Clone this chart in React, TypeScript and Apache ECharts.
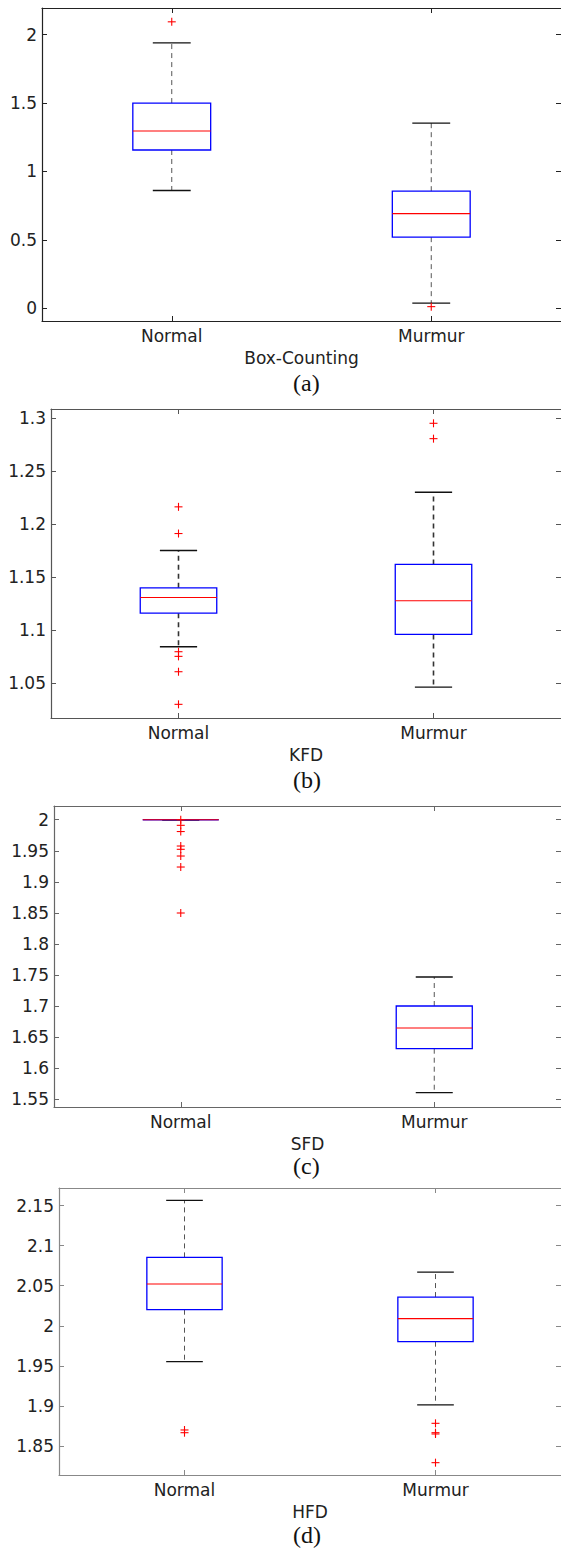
import React, { useEffect, useRef } from "react";
import * as echarts from "echarts";

const categories = ["Normal", "Murmur"];

// [lowerWhisker, Q1, median, Q3, upperWhisker]
const boxCountingBoxes = [
  [0.861, 1.157, 1.296, 1.5, 1.94],
  [0.037, 0.52, 0.692, 0.856, 1.354],
];
const boxCountingOutliers = [
  [0, 2.094],
  [1, 0.012],
];

const kfdBoxes = [
  [1.0843, 1.116, 1.1308, 1.1399, 1.1752],
  [1.0462, 1.0959, 1.1277, 1.162, 1.2302],
];
const kfdOutliers = [
  [0, 1.2164],
  [0, 1.1912],
  [0, 1.0796],
  [0, 1.0752],
  [0, 1.0607],
  [0, 1.0299],
  [1, 1.2953],
  [1, 1.2808],
];

const sfdBoxes = [
  [2.0, 2.0, 2.0, 2.0, 2.0],
  [1.5607, 1.6315, 1.6648, 1.7002, 1.7469],
];
const sfdOutliers = [
  [0, 2.0],
  [0, 1.991],
  [0, 1.981],
  [0, 1.9577],
  [0, 1.9524],
  [0, 1.9416],
  [0, 1.9239],
  [0, 1.8499],
];

const hfdBoxes = [
  [1.9552, 2.0201, 2.0522, 2.0854, 2.1566],
  [1.9012, 1.9802, 2.0089, 2.0359, 2.0671],
];
const hfdOutliers = [
  [0, 1.87],
  [0, 1.8666],
  [1, 1.8783],
  [1, 1.8666],
  [1, 1.865],
  [1, 1.8292],
];

const xLabels = ["Box-Counting", "KFD", "SFD", "HFD"];
const captions = ["(a)", "(b)", "(c)", "(d)"];
const yMins = [-0.093, 1.017, 1.5377, 1.8138];
const yMaxs = [2.195, 1.3088, 2.0221, 2.172];
const yIntervals = [0.5, 0.05, 0.05, 0.05];

const allBoxes = [boxCountingBoxes, kfdBoxes, sfdBoxes, hfdBoxes];
const allOutliers = [boxCountingOutliers, kfdOutliers, sfdOutliers, hfdOutliers];

// layout (pixels)
const grids = [
  { left: 42, top: 8, height: 313 },
  { left: 51, top: 409, height: 309 },
  { left: 54, top: 806, height: 301 },
  { left: 59, top: 1188, height: 287 },
];
const captionY = [385, 782, 1168, 1537];
const frameColors = ["#222", "#555", "#666", "#888"];
const whiskerColors = ["#555", "#333", "#555", "#555"];
const whiskerWidths = [1, 1.6, 1, 1];

export default function App() {
  const ref = useRef<HTMLDivElement>(null);
  useEffect(() => {
    if (!ref.current) return;
    const chart = echarts.init(ref.current, null, { renderer: "svg" });
    const font = "DejaVu Sans";
    const grid: any[] = [];
    const xAxis: any[] = [];
    const yAxis: any[] = [];
    const series: any[] = [];
    const graphic: any[] = [];

    grids.forEach((g, i) => {
      grid.push({ left: g.left, top: g.top, height: g.height, right: -1 });
      const frame = frameColors[i];
      xAxis.push({
        type: "category",
        gridIndex: i,
        data: categories,
        position: "bottom",
        axisLine: { show: true, onZero: false, lineStyle: { color: frame, width: 1.2 } },
        axisTick: { show: true, inside: true, length: 5, alignWithLabel: true, lineStyle: { color: frame } },
        axisLabel: { color: "#222", fontFamily: font, fontSize: 17, margin: 6 },
        splitLine: { show: false },
        name: xLabels[i],
        nameLocation: "middle",
        nameGap: 28,
        nameTextStyle: { color: "#222", fontFamily: font, fontSize: 17 },
      });
      xAxis.push({
        type: "category",
        gridIndex: i,
        data: categories,
        position: "top",
        axisLine: { show: true, onZero: false, lineStyle: { color: frame, width: 1.2 } },
        axisTick: { show: true, inside: true, length: 5, alignWithLabel: true, lineStyle: { color: frame } },
        axisLabel: { show: false },
        splitLine: { show: false },
      });
      const yCommon = {
        type: "value",
        gridIndex: i,
        min: yMins[i],
        max: yMaxs[i],
        minInterval: yIntervals[i],
        maxInterval: yIntervals[i],
        splitLine: { show: false },
        axisTick: { show: true, inside: true, length: 5, lineStyle: { color: frame } },
      };
      yAxis.push({
        ...yCommon,
        position: "left",
        axisLine: { show: true, onZero: false, lineStyle: { color: frame, width: 1.2 } },
        axisLabel: {
          color: "#222",
          fontFamily: font,
          fontSize: 17,
          margin: 5,
          showMinLabel: false,
          showMaxLabel: false,
        },
      });
      yAxis.push({
        ...yCommon,
        position: "right",
        axisLine: { show: false, onZero: false },
        axisLabel: { show: false },
      });

      const wColor = whiskerColors[i];
      const wWidth = whiskerWidths[i];
      series.push({
        type: "custom",
        xAxisIndex: i * 2,
        yAxisIndex: i * 2,
        data: allBoxes[i].map((b, k) => [k, ...b]),
        encode: { x: 0, y: [1, 2, 3, 4, 5] },
        renderItem: (params: any, api: any) => {
          const k = api.value(0);
          const lo = api.coord([k, api.value(1)]);
          const q1 = api.coord([k, api.value(2)]);
          const md = api.coord([k, api.value(3)]);
          const q3 = api.coord([k, api.value(4)]);
          const hi = api.coord([k, api.value(5)]);
          const band = api.size([1, 0])[0];
          const cx = lo[0];
          const bw = band * 0.3;
          const cw = band * 0.146;
          return {
            type: "group",
            children: [
              {
                type: "line",
                shape: { x1: cx, y1: q3[1], x2: cx, y2: hi[1] },
                style: { stroke: wColor, lineWidth: wWidth, lineDash: [5, 4] },
              },
              {
                type: "line",
                shape: { x1: cx, y1: q1[1], x2: cx, y2: lo[1] },
                style: { stroke: wColor, lineWidth: wWidth, lineDash: [5, 4] },
              },
              {
                type: "line",
                shape: { x1: cx - cw / 2, y1: hi[1], x2: cx + cw / 2, y2: hi[1] },
                style: { stroke: "#111", lineWidth: 1.3 },
              },
              {
                type: "line",
                shape: { x1: cx - cw / 2, y1: lo[1], x2: cx + cw / 2, y2: lo[1] },
                style: { stroke: "#111", lineWidth: 1.3 },
              },
              {
                type: "rect",
                shape: { x: cx - bw / 2, y: q3[1], width: bw, height: q1[1] - q3[1] },
                style: { fill: "none", stroke: "#0000ff", lineWidth: 1.3 },
              },
              {
                type: "line",
                shape: { x1: cx - bw / 2, y1: md[1], x2: cx + bw / 2, y2: md[1] },
                style: { stroke: "#ff0000", lineWidth: 1.2 },
              },
            ],
          };
        },
        z: 2,
      });
      series.push({
        type: "custom",
        xAxisIndex: i * 2,
        yAxisIndex: i * 2,
        data: allOutliers[i],
        encode: { x: 0, y: 1 },
        renderItem: (params: any, api: any) => {
          const p = api.coord([api.value(0), api.value(1)]);
          const s = 4;
          return {
            type: "group",
            children: [
              {
                type: "line",
                shape: { x1: p[0] - s, y1: p[1], x2: p[0] + s, y2: p[1] },
                style: { stroke: "#ff0000", lineWidth: 1.1 },
              },
              {
                type: "line",
                shape: { x1: p[0], y1: p[1] - s, x2: p[0], y2: p[1] + s },
                style: { stroke: "#ff0000", lineWidth: 1.1 },
              },
            ],
          };
        },
        z: 3,
      });

      graphic.push({
        type: "text",
        left: 310 - 17,
        top: captionY[i] - 14,
        style: {
          text: captions[i],
          fill: "#111",
          font: '24px "Liberation Serif", "Times New Roman", serif',
        },
      });
    });

    chart.setOption({
      animation: false,
      backgroundColor: "#ffffff",
      grid,
      xAxis,
      yAxis,
      series,
      graphic,
    });
    return () => chart.dispose();
  }, []);
  return (
    <div
      ref={ref}
      style={{ position: "absolute", left: 0, top: 0, width: 561, height: 1548, background: "#fff" }}
    />
  );
}
